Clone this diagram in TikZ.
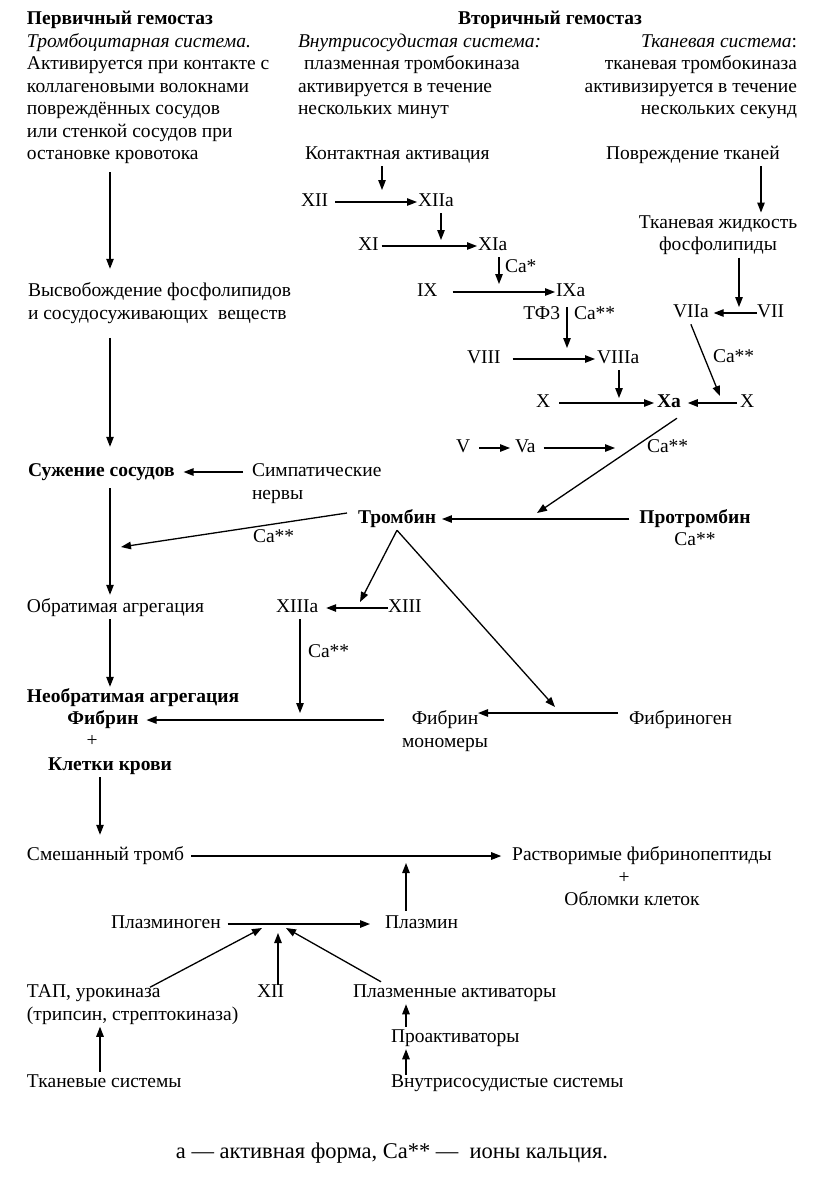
\documentclass[tikz,border=0pt]{standalone}
\usepackage{fontspec}
\setmainfont{Liberation Serif}
\usetikzlibrary{arrows.meta}
\newcommand\fs{\fontsize{19.5pt}{22.5pt}\selectfont}
\newcommand\fslegend{\fontsize{22.5pt}{26pt}\selectfont}
\begin{document}
\begin{tikzpicture}[x=1pt,y=-1pt,
  t/.style={inner sep=0pt, outer sep=0pt, font=\fs, align=left},
  tc/.style={t, align=center},
  tr/.style={t, align=right},
  arr/.style={draw, line width=1.3pt, -{Triangle[length=10pt,width=7.5pt]}},
  ln/.style={draw, line width=1.3pt}]
\useasboundingbox[fill=white] (0,0) rectangle (823,1200);
% ---------- column coordinates
\coordinate (cL) at (110,0);
\coordinate (cK) at (100,0);
\coordinate (cP) at (406,0);
\coordinate (cR) at (761,0);
% ---------- headers
\node[t, anchor=west] (h1) at (27,20) {\strut\textbf{Первичный гемостаз}};
\node[t, anchor=west] (prim) at (27,98.75) {\strut\textit{Тромбоцитарная система.}\\\strut Активируется при контакте с\\\strut коллагеновыми волокнами\\\strut повреждённых сосудов\\\strut или стенкой сосудов при\\\strut остановке кровотока};
\node[t, anchor=center] (h2) at (550,20) {\strut\textbf{Вторичный гемостаз}};
\node[t, anchor=west] (vnutr) at (298,76.25) {\strut\textit{Внутрисосудистая система:}\\\strut\hspace{6pt}плазменная тромбокиназа\\\strut активируется в течение\\\strut нескольких минут};
\node[tr, anchor=east] (tkan) at (797,76.25) {\strut\textit{Тканевая система}:\\\strut тканевая тромбокиназа\\\strut активизируется в течение\\\strut нескольких секунд};
% ---------- internal cascade
\node[t, anchor=west] (kont) at (305,155) {\strut Контактная активация};
\node[t, anchor=west] (povr) at (606,155) {\strut Повреждение тканей};
\node[t, anchor=west] (xii) at (301,202) {\strut XII};
\node[t, anchor=west] (xiia) at (418,202) {\strut XIIa};
\node[t, anchor=west] (xi) at (358,246) {\strut XI};
\node[t, anchor=west] (xia) at (478,246) {\strut XIa};
\node[t, anchor=west] (ca1) at (505,268) {\strut Ca*};
\node[t, anchor=west] (ix) at (417,292) {\strut IX};
\node[t, anchor=west] (ixa) at (556,292) {\strut IXa};
\node[t, anchor=east] (tf3) at (560,315) {\strut ТФ3};
\node[t, anchor=west] (ca2) at (574,315) {\strut Ca**};
\node[t, anchor=west] (viii) at (467,359) {\strut VIII};
\node[t, anchor=west] (viiia) at (597,359) {\strut VIIIa};
\node[t, anchor=west] (x1) at (536,403) {\strut X};
\node[t, anchor=west] (xa) at (657,403) {\strut\textbf{Xa}};
\node[t, anchor=west] (x2) at (740,403) {\strut X};
\node[tc, anchor=center] (tkzh) at (718,235) {\strut Тканевая жидкость\\\strut фосфолипиды};
\node[t, anchor=west] (viia) at (673,313) {\strut VIIa};
\node[t, anchor=west] (vii) at (757,313) {\strut VII};
\node[t, anchor=west] (ca3) at (713,358) {\strut Ca**};
\node[t, anchor=west] (v) at (456,448) {\strut V};
\node[t, anchor=west] (va) at (515,448) {\strut Va};
\node[t, anchor=west] (ca4) at (647,448) {\strut Ca**};
\node[t, anchor=west] (tromb) at (358,519) {\strut\textbf{Тромбин}};
\node[tc, anchor=center] (protr) at (695,530) {\strut\textbf{Протромбин}\\\strut Ca**};
% ---------- left column
\node[t, anchor=west] (vysv) at (28,303.25) {\strut Высвобождение фосфолипидов\\\strut и сосудосуживающих\ \ веществ};
\node[t, anchor=west] (suzh) at (28,472) {\strut\textbf{Сужение сосудов}};
\node[t, anchor=west] (simp) at (252,483.25) {\strut Симпатические\\\strut нервы};
\node[t, anchor=west] (ca5) at (253,538) {\strut Ca**};
\node[t, anchor=west] (obr) at (27,608) {\strut Обратимая агрегация};
\node[t, anchor=west] (xiiia) at (276,608) {\strut XIIIa};
\node[t, anchor=west] (xiii) at (388,608) {\strut XIII};
\node[t, anchor=west] (ca6) at (308,653) {\strut Ca**};
\node[t, anchor=west] (neobr) at (27,698) {\strut\textbf{Необратимая агрегация}};
\node[t, anchor=center] (fib) at (103,720) {\strut\textbf{Фибрин}};
\node[t, anchor=center] (plus1) at (92,742) {\strut +};
\node[t, anchor=center] (klet) at (110,766) {\strut\textbf{Клетки крови}};
\node[tc, anchor=center] (fibm) at (445,731.5) {\strut Фибрин\\\strut мономеры};
\node[t, anchor=west] (fibg) at (629,720) {\strut Фибриноген};
% ---------- fibrinolysis
\node[t, anchor=west] (smesh) at (27,856) {\strut Смешанный тромб};
\node[t, anchor=center] (rastv) at (642,856) {\strut Растворимые фибринопептиды};
\node[t, anchor=center] (plus2) at (624,879) {\strut +};
\node[t, anchor=center] (oblom) at (632,901) {\strut Обломки клеток};
\node[t, anchor=west] (plg) at (111,924) {\strut Плазминоген};
\node[t, anchor=west] (plm) at (385,924) {\strut Плазмин};
\node[t, anchor=west] (tap) at (27,1004.25) {\strut ТАП, урокиназа\\\strut (трипсин, стрептокиназа)};
\node[t, anchor=west] (xii2) at (257,993) {\strut XII};
\node[t, anchor=west] (pact) at (353,993) {\strut Плазменные активаторы};
\node[t, anchor=west] (proakt) at (391,1038) {\strut Проактиваторы};
\node[t, anchor=west] (vnsys) at (391,1083) {\strut Внутрисосудистые системы};
\node[t, anchor=west] (tksys) at (27,1083) {\strut Тканевые системы};
\node[t, font=\fslegend, anchor=center] (legend) at (392,1153) {\strut а — активная форма, Ca** — \ ионы кальция.};
% ---------- free ends
\coordinate (mb1) at (382,190);
\coordinate (mb3) at (441,240);
\coordinate (mb5) at (499,284);
\coordinate (mb7) at (567,348);
\coordinate (mb9) at (619,398);
\coordinate (mb13) at (739,307);
\coordinate (mb15) at (720,396);
\coordinate (mb16) at (537,513);
\coordinate (mb18) at (615,448);
\coordinate (mb20) at (360,602);
\coordinate (mb21) at (555,707);
\coordinate (mb23) at (300,713);
\coordinate (mb25) at (478,713);
\coordinate (ma5) at (121,547);
\coordinate (m9) at (406,863);
\coordinate (m11) at (262,928);
\coordinate (m12) at (278,933);
\coordinate (m13) at (286,928);
% ---------- left arrows
\draw[arr, shorten <=6pt, shorten >=12pt] (prim.south -| cL) -- (vysv.north -| cL);
\draw[arr, shorten <=12pt, shorten >=14pt] (vysv.south -| cL) -- (suzh.north -| cL);
\draw[arr, shorten <=9pt, shorten >=9pt] (simp.west |- suzh.east) -- (suzh.east);
\draw[arr, shorten <=5pt, shorten >=2pt] (suzh.south -| cL) -- (obr.north -| cL);
\draw[arr] ([xshift=-11pt,yshift=6pt]tromb.west) -- (ma5);
\draw[arr] (obr.south -| cL) -- (neobr.north -| cL);
\draw[arr, shorten >=10pt] (klet.south -| cK) -- (smesh.north -| cK);
% ---------- fibrinolysis arrows
\draw[arr, shorten <=7pt, shorten >=11pt] (smesh.east) -- (rastv.west);
\draw[arr, shorten <=2pt] (plm.north -| m9) -- (m9);
\draw[arr, shorten <=7pt, shorten >=15pt] (plg.east) -- (plm.west);
\draw[arr] ([shift={(123pt,-5.5pt)}]tap.north west) -- (m11);
\draw[arr, shorten <=-3pt] (xii2.north -| m12) -- (m12);
\draw[arr] ([xshift=28pt]pact.north west) -- (m13);
\draw[arr] (proakt.north -| cP) -- (pact.south -| cP);
\draw[arr, shorten <=-3pt] (vnsys.north -| cP) -- (proakt.south -| cP);
\draw[arr] (tksys.north -| cK) -- (tap.south -| cK);
% ---------- cascade arrows
\draw[arr] (kont.south -| mb1) -- (mb1);
\draw[arr, shorten <=7pt, shorten >=1pt] (xii.east) -- (xiia.west);
\draw[arr] (xiia.south -| mb3) -- (mb3);
\draw[arr, shorten <=3pt, shorten >=1pt] (xi.east) -- (xia.west);
\draw[arr] (xia.south -| mb5) -- (mb5);
\draw[arr, shorten <=15pt, shorten >=1pt] (ix.east) -- (ixa.west);
\draw[arr, shorten <=4pt] (ixa.south -| mb7) -- (mb7);
\draw[arr, shorten <=12pt, shorten >=2pt] (viii.east) -- (viiia.west);
\draw[arr] (viiia.south -| mb9) -- (mb9);
\draw[arr, shorten <=9pt, shorten >=3pt] (x1.east) -- (xa.west);
\draw[arr, shorten <=3pt, shorten >=7pt] (x2.west) -- (xa.east);
\draw[arr] (povr.south -| cR) -- (tkzh.north -| cR);
\draw[arr] (tkzh.south -| mb13) -- (mb13);
\draw[arr, shorten >=5pt] (vii.west) -- (viia.east);
\draw[arr] (viia.south) -- (mb15);
\draw[arr] ([xshift=8pt,yshift=-4pt]xa.south) -- (mb16);
\draw[arr, shorten <=9pt, shorten >=5pt] (v.east) -- (va.west);
\draw[arr, shorten <=8pt] (va.east) -- (mb18);
\draw[arr, shorten <=10pt, shorten >=6pt] (protr.west |- tromb.east) -- (tromb.east);
\draw[arr] (tromb.south) -- (mb20);
\draw[arr] (tromb.south) -- (mb21);
\draw[arr, shorten >=8pt] (xiii.west) -- (xiiia.east);
\draw[arr] (xiiia.south -| mb23) -- (mb23);
\draw[arr, shorten <=18pt, shorten >=8pt] (fibm.west |- fib.east) -- (fib.east);
\draw[arr, shorten <=11pt] ([yshift=7pt]fibg.west) -- (mb25);
\end{tikzpicture}
\end{document}
